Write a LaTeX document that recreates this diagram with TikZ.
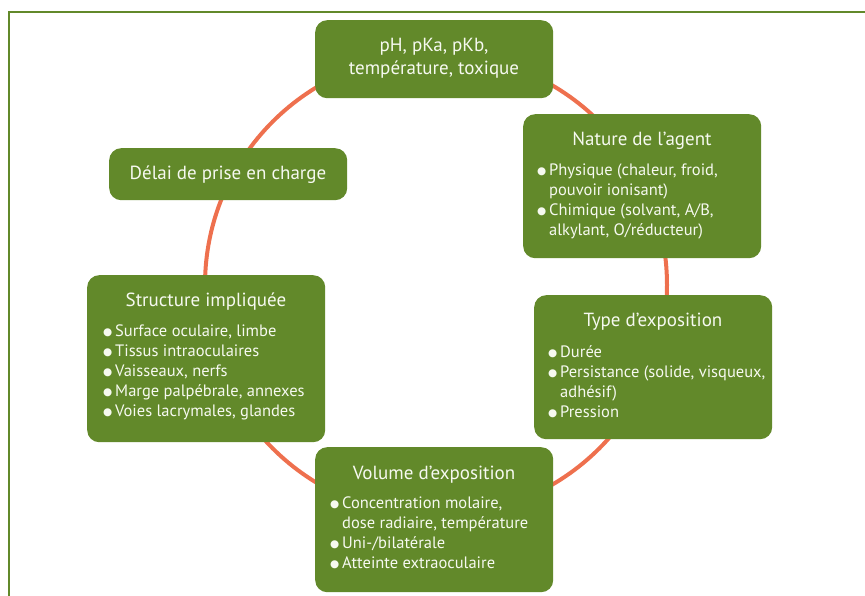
\documentclass[tikz,border=0pt]{standalone}
\usepackage{fontspec}
\setmainfont{PT Sans}
\newfontfamily\symf{DejaVu Sans}
\definecolor{leaf}{RGB}{98,137,42}
\definecolor{ring}{RGB}{238,112,78}
\definecolor{ink}{RGB}{246,249,240}
\newcommand\bul{\makebox[12pt][l]{\raisebox{0.8pt}{\symf\fontsize{10.5}{10.5}\selectfont ●}}}
\newcommand\cnt{\hspace*{12pt}}
\begin{document}
\begin{tikzpicture}[x=1pt,y=-1pt,
  box/.style={fill=leaf, draw=none, rounded corners=12pt, inner sep=0pt, anchor=north west},
  ttl/.style={text=ink, font=\fontsize{19}{23}\selectfont, inner sep=0pt, align=center, anchor=base},
  bdy/.style={text=ink, font=\fontsize{16.5}{20}\selectfont, inner sep=0pt, align=left, anchor=base west}]
\useasboundingbox (0,0) rectangle (865,596);
% frame
\draw[leaf, line width=2pt] (9,596) -- (9,12) -- (865,12);
% ring
\coordinate (ctr) at (436,285);
\draw[ring, line width=4pt] (ctr) circle[radius=231pt];
% boxes
\node[box, minimum width=238pt, minimum height=78pt] (ph) at (315,20) {};
\node[box, minimum width=238pt, minimum height=144pt] (nat) at (523,114) {};
\node[box, minimum width=238pt, minimum height=52pt] (del) at (109,148) {};
\node[box, minimum width=238pt, minimum height=167pt] (str) at (87,275) {};
\node[box, minimum width=238pt, minimum height=144pt] (typ) at (534,295) {};
\node[box, minimum width=238pt, minimum height=145pt] (vol) at (315,447) {};
% texts (multi-line nodes are anchored at the baseline of their last line)
\node[ttl] (phT) at (434,74.5) {pH, pKa, pKb,\\température, toxique};
\node[ttl] (natT) at (642,145.5) {Nature de l’agent};
\node[bdy] (natB) at (537,235.5) {\bul Physique (chaleur, froid,\\\cnt pouvoir ionisant)\\\bul Chimique (solvant, A/B,\\\cnt alkylant, O/réducteur)};
\node[ttl] (delT) at (228,179.5) {Délai de prise en charge};
\node[ttl] (strT) at (206,306.5) {Structure impliquée};
\node[bdy] (strB) at (103,416) {\bul Surface oculaire, limbe\\\bul Tissus intraoculaires\\\bul Vaisseaux, nerfs\\\bul Marge palpébrale, annexes\\\bul Voies lacrymales, glandes};
\node[ttl] (typT) at (653,326.5) {Type d’exposition};
\node[bdy] (typB) at (548,417) {\bul Durée\\\bul Persistance (solide, visqueux,\\\cnt adhésif)\\\bul Pression};
\node[ttl] (volT) at (434,479.5) {Volume d’exposition};
\node[bdy] (volB) at (330,568) {\bul Concentration molaire,\\\cnt dose radiaire, température\\\bul Uni-/bilatérale\\\bul Atteinte extraoculaire};
\end{tikzpicture}
\end{document}
